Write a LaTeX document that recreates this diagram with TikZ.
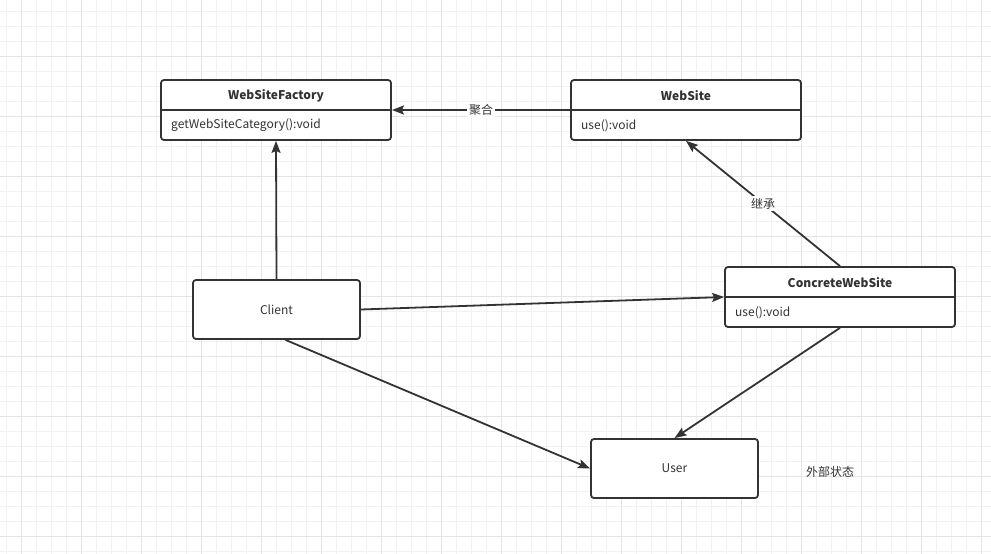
\documentclass[tikz,border=0pt]{standalone}
\usepackage{fontspec}
\setmainfont{Noto Sans CJK SC}
\usetikzlibrary{arrows.meta,calc}
\definecolor{ink}{HTML}{333333}
\definecolor{gridminor}{HTML}{F2F2F2}
\definecolor{gridmajor}{HTML}{E4E4E4}
\begin{document}
\begin{tikzpicture}[x=1pt,y=-1pt,
  box/.style={draw=ink,line width=1.8pt,rounded corners=3pt,fill=white,inner sep=0pt},
  lbl/.style={text=ink,font=\fontsize{12}{14}\selectfont,inner sep=1pt},
  hdr/.style={text=ink,font=\fontsize{12}{14}\selectfont\bfseries,inner sep=0pt},
  conn/.style={draw=ink,line width=1.8pt,-{Stealth[length=12pt,width=9pt,inset=2pt]}},
  edgelbl/.style={text=ink,font=\fontsize{12}{14}\selectfont,fill=white,inner sep=2pt}]
\useasboundingbox (0,0) rectangle (991,554);
\fill[white] (0,0) rectangle (991,554);
% grid
\foreach \i in {0,...,66} {\draw[gridminor,line width=0.8pt] ({6.7+15*\i},0) -- ({6.7+15*\i},554);}
\foreach \i in {0,...,36} {\draw[gridminor,line width=0.8pt] (0,{11.7+15*\i}) -- (991,{11.7+15*\i});}
\foreach \i in {0,...,16} {\draw[gridmajor,line width=0.8pt] ({21.7+60*\i},0) -- ({21.7+60*\i},554);}
\foreach \i in {-1,...,8} {\draw[gridmajor,line width=0.8pt] (0,{56.7+60*\i}) -- (991,{56.7+60*\i});}
% boxes
\node[box,minimum width=230pt,minimum height=60pt] (wsf) at (276,110) {};
\draw[ink,line width=1.8pt] (wsf.west |- 0,110) -- (wsf.east |- 0,110);
\node[hdr] (wsft) at (276,95.5) {WebSiteFactory};
\node[lbl,anchor=west] (wsfm) at (170,125.5) {getWebSiteCategory():void};

\node[box,minimum width=230pt,minimum height=60pt] (ws) at (686,110) {};
\draw[ink,line width=1.8pt] (ws.west |- 0,110) -- (ws.east |- 0,110);
\node[hdr] (wst) at (686,95.5) {WebSite};
\node[lbl,anchor=west] (wsm) at (580,125.5) {use():void};

\node[box,minimum width=230pt,minimum height=60pt] (cws) at (840,297) {};
\draw[ink,line width=1.8pt] (cws.west |- 0,297) -- (cws.east |- 0,297);
\node[hdr] (cwst) at (840,282.5) {ConcreteWebSite};
\node[lbl,anchor=west] (cwsm) at (734,312.5) {use():void};

\node[box,minimum width=167pt,minimum height=59pt] (cl) at (276.5,309.5) {};
\node[lbl] (clt) at (276.5,309.5) {Client};

\node[box,minimum width=167pt,minimum height=59pt] (user) at (674.5,468.5) {};
\node[lbl] (usert) at (674.5,468.5) {User};

\node[lbl] (ext) at (830,471.5) {外部状态};
% connectors
\draw[conn] (ws.west) -- node[edgelbl] (l1) {聚合} (wsf.east);
\draw[conn] (cws.north) -- node[edgelbl] (l2) {继承} (ws.south);
\draw[conn] (cl.north) -- (wsf.south);
\draw[conn] (cl.east) -- (cws.west);
\draw[conn] ([xshift=9pt]cl.south) -- (user.west);
\draw[conn] (cws.south) -- (user.north);
\end{tikzpicture}
\end{document}
